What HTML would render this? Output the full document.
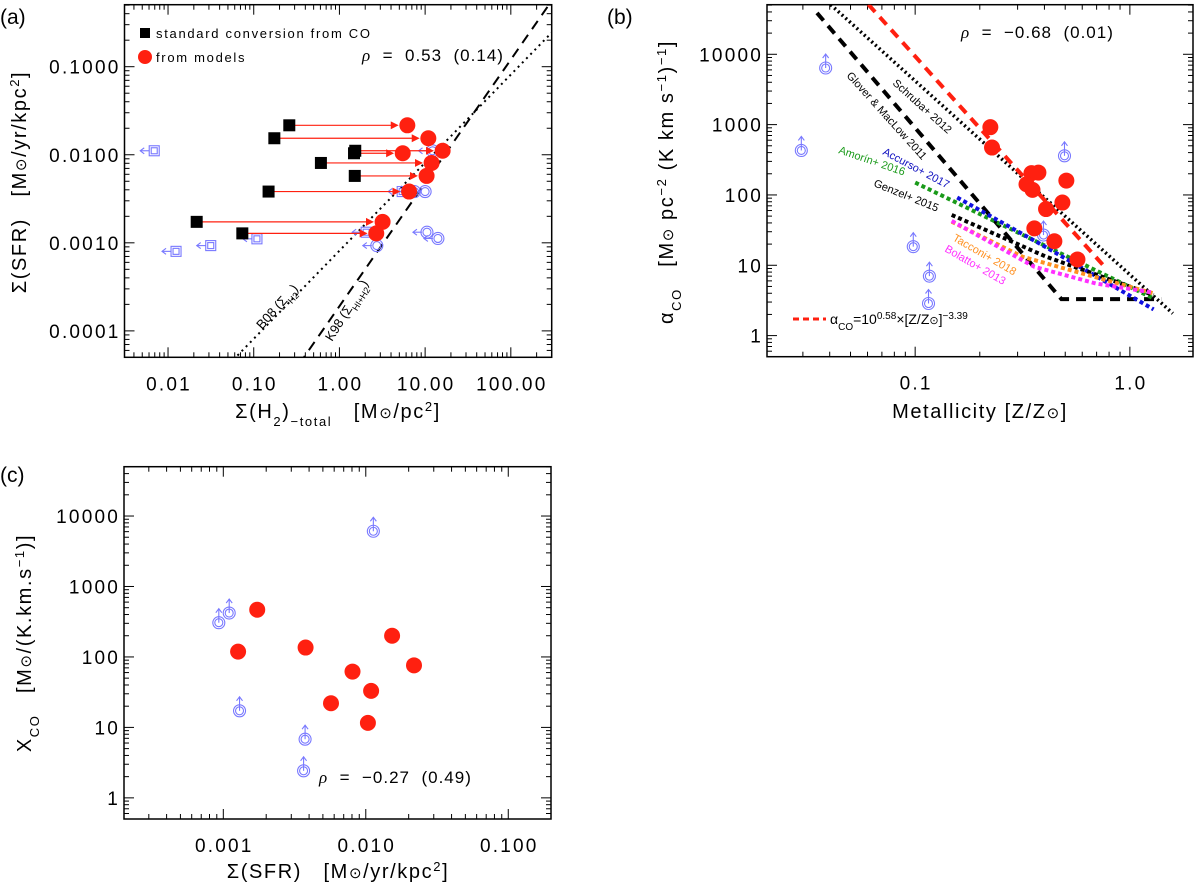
<!DOCTYPE html>
<html><head><meta charset="utf-8">
<style>
html,body{margin:0;padding:0;background:#fff;}
svg{display:block;font-family:"Liberation Sans",sans-serif;}
text{white-space:pre;}
.ttl{font-size:20px;letter-spacing:1.6px;}
</style></head>
<body>
<svg id="fig" width="1200" height="885" viewBox="0 0 1200 885" xmlns="http://www.w3.org/2000/svg">
<defs>
<clipPath id="clipA"><rect x="124.5" y="4.7" width="427.2" height="352.6"/></clipPath>
<clipPath id="clipB"><rect x="767" y="4.7" width="426" height="352"/></clipPath>
<clipPath id="clipC"><rect x="124" y="466.7" width="427" height="352.3"/></clipPath>
</defs>
<g id="gA"></g>
<g id="gB"></g>
<g id="gC"></g>

<text x="0" y="24" font-size="21">(a)</text>
<text x="607" y="24" font-size="21">(b)</text>
<text x="0" y="482" font-size="21">(c)</text>

<text class="ttl" transform="translate(26,182) rotate(-90)" text-anchor="middle">Σ(SFR)   [M<tspan font-size="15">⊙</tspan>/yr/kpc<tspan font-size="13" baseline-shift="super">2</tspan>]</text>
<text class="ttl" x="338" y="418" text-anchor="middle">Σ(H<tspan font-size="13" baseline-shift="sub">2</tspan>)<tspan font-size="13" baseline-shift="sub">−total</tspan>   [M<tspan font-size="15">⊙</tspan>/pc<tspan font-size="13" baseline-shift="super">2</tspan>]</text>

<text class="ttl" transform="translate(673,182) rotate(-90)" text-anchor="middle">α<tspan font-size="13" baseline-shift="sub">CO</tspan>   [M<tspan font-size="15">⊙</tspan> pc<tspan font-size="13" baseline-shift="super">−2</tspan> (K km s<tspan font-size="13" baseline-shift="super">−1</tspan>)<tspan font-size="13" baseline-shift="super">−1</tspan>]</text>
<text class="ttl" x="980" y="418" text-anchor="middle">Metallicity [Z/Z<tspan font-size="15">⊙</tspan>]</text>

<text class="ttl" transform="translate(31,643) rotate(-90)" text-anchor="middle">X<tspan font-size="13" baseline-shift="sub">CO</tspan>   [M<tspan font-size="15">⊙</tspan>/(K.km.s<tspan font-size="13" baseline-shift="super">−1</tspan>)]</text>
<text class="ttl" x="338" y="878" text-anchor="middle">Σ(SFR)   [M<tspan font-size="15">⊙</tspan>/yr/kpc<tspan font-size="13" baseline-shift="super">2</tspan>]</text>

<rect x="140" y="28" width="10" height="10" fill="#000"/>
<text x="156" y="38" font-size="13" letter-spacing="1.7">standard conversion from CO</text>
<circle cx="145" cy="57" r="7" fill="#ff2010"/>
<text x="156" y="62" font-size="13" letter-spacing="1.7">from models</text>
<text x="362" y="61" font-size="17" letter-spacing="1"><tspan font-style="italic" font-family="Liberation Serif">ρ</tspan>  =  0.53  (0.14)</text>
<text transform="translate(262,330) rotate(-48)" font-size="13">B08 (Σ<tspan font-size="9" baseline-shift="sub">H2</tspan>)</text>
<text transform="translate(332,342) rotate(-58)" font-size="13">K98 (Σ<tspan font-size="9" baseline-shift="sub">HI+H2</tspan>)</text>

<text x="961" y="38" font-size="17" letter-spacing="1"><tspan font-style="italic" font-family="Liberation Serif">ρ</tspan>  =  −0.68  (0.01)</text>
<text transform="translate(892,84) rotate(42)" font-size="11">Schruba+ 2012</text>
<text transform="translate(846,76) rotate(48)" font-size="11">Glover &amp; MacLow 2011</text>
<text transform="translate(838,153) rotate(19)" font-size="11" fill="#1a9a1a">Amorín+ 2016</text>
<text transform="translate(882,154) rotate(28)" font-size="11" fill="#1010c0">Accurso+ 2017</text>
<text transform="translate(873,186) rotate(22)" font-size="11">Genzel+ 2015</text>
<text transform="translate(952,240) rotate(30)" font-size="11" fill="#ff9020">Tacconi+ 2018</text>
<text transform="translate(944,251) rotate(30)" font-size="11" fill="#ff30ff">Bolatto+ 2013</text>
<line x1="793" y1="319" x2="826" y2="319" stroke="#ff2010" stroke-width="3" stroke-dasharray="6 4"/>
<text x="830" y="324" font-size="14">α<tspan font-size="10" baseline-shift="sub">CO</tspan>=10<tspan font-size="10" baseline-shift="super">0.58</tspan>×[Z/Z<tspan font-size="11">⊙</tspan>]<tspan font-size="10" baseline-shift="super">−3.39</tspan></text>

<text x="319" y="783" font-size="17" letter-spacing="1"><tspan font-style="italic" font-family="Liberation Serif">ρ</tspan>  =  −0.27  (0.49)</text>
</svg>
<script>
var NS="http://www.w3.org/2000/svg";
// ---------- Panel (a) data ----------
var aStdH2=[0.26,0.174,1.48,1.53,0.608,1.51,0.149,0.0216,0.0736];
var aModelH2=[6.2,10.9,5.48,16.0,11.9,10.4,6.5,3.19,2.69];
var aSfr=[0.0216,0.0154,0.0104,0.0111,0.00807,0.00575,0.00382,0.00173,0.00128];
var aLimSqH2=[0.0069,0.0124,0.0315,0.109,2.05,5.4];
var aLimSqSfr=[0.0111,0.0008,0.00093,0.00111,0.00132,0.00382];
var aLimCircH2=[12.2,10.0,10.5,14.1,2.73,7.5];
var aLimCircSfr=[0.0111,0.00382,0.00132,0.00112,0.00093,0.00382];
var b08Coef=[1.0,-3.09];
var k98Coef=[1.4,-3.72];
var aXTicks=[0.01,0.1,1,10,100];
var aXLabels=["0.01","0.10","1.00","10.00","100.00"];
var aYTicks=[0.0001,0.001,0.01,0.1];
var aYLabels=["0.0001","0.0010","0.0100","0.1000"];
// ---------- Panel (b) data ----------
var bZ=[0.224,0.228,0.348,0.375,0.330,0.352,0.359,0.407,0.445,0.485,0.506,0.570];
var bAlpha=[920,472,204,208,142,118,33.5,63,22,78,160,12.1];
var bLimZ=[0.0383,0.0295,0.098,0.1165,0.1154,0.396,0.496];
var bLimAlpha=[6380,429,18.4,7.0,2.86,26.9,360];
var fitCoef=[0.58,-3.39];
var fitZRange=[0.0606,0.78];
var schrubaZ=[0.0404,1.585], schrubaAlpha=[50800,2.07];
var gloverZ=[0.0349,0.48,1.4], gloverAlpha=[38700,3.3,3.3];
var accursoZ=[0.157,0.39,1.29], accursoAlpha=[92,19.4,2.36];
var amorinZ=[0.1,1.29], amorinAlpha=[150,3.37];
var genzelZ=[0.148,0.406,1.29], genzelAlpha=[52,13.3,3.76];
var tacconiZ=[0.148,0.317,1.29], tacconiAlpha=[41.7,13.2,3.98];
var bolattoZ=[0.148,0.359,0.695,1.29], bolattoAlpha=[42.7,9.5,5.5,4.07];
var bXTicks=[0.1,1], bXLabels=["0.1","1.0"];
var bYTicks=[1,10,100,1000,10000], bYLabels=["1","10","100","1000","10000"];
// ---------- Panel (c) data ----------
var cSfr=[0.00173,0.00127,0.00378,0.0153,0.0218,0.00807,0.0109,0.0057,0.01035];
var cXco=[468,119,136,200,76,62,33,22,11.6];
var cLimSfr=[0.00093,0.0011,0.0013,0.00375,0.00366,0.0113];
var cLimXco=[306,420,17.2,6.8,2.42,6080];
var cXTicks=[0.001,0.01,0.1], cXLabels=["0.001","0.010","0.100"];
var cYTicks=[1,10,100,1000,10000], cYLabels=["1","10","100","1000","10000"];

function mk(tag,attrs,parent){var e=document.createElementNS(NS,tag);for(var k in attrs)e.setAttribute(k,attrs[k]);parent.appendChild(e);return e;}
function makeAxis(x0,x1,y0,y1,lx0,lx1,ly0,ly1){
  return {x0:x0,x1:x1,y0:y0,y1:y1,lx0:lx0,lx1:lx1,ly0:ly0,ly1:ly1,
    X:function(v){return x0+(Math.log10(v)-lx0)/(lx1-lx0)*(x1-x0);},
    Y:function(v){return y1-(Math.log10(v)-ly0)/(ly1-ly0)*(y1-y0);}};
}
var A=makeAxis(124.5,551.7,4.7,357.3,-2.508,2.477,-4.30,-0.296);
var B=makeAxis(767,1193,4.7,356.7,-1.69,0.294,-0.30,4.705);
var C=makeAxis(124,551,466.7,819,-3.697,-0.70,-0.30,4.70);

function drawFrame(ax,g,xt,xl,yt,yl,name){
  var r=mk('rect',{x:ax.x0,y:ax.y0,width:ax.x1-ax.x0,height:ax.y1-ax.y0,fill:'none',stroke:'#000','stroke-width':1.5},g);
  
  
  var tg=mk('g',{stroke:'#000','stroke-width':1},g);
  
  
  for(var d=Math.floor(ax.lx0);d<=Math.ceil(ax.lx1);d++){for(var m=1;m<10;m++){var v=m*Math.pow(10,d);var lv=Math.log10(v);if(lv<ax.lx0||lv>ax.lx1)continue;var x=ax.X(v),L=m==1?10:5;
    mk('line',{x1:x,y1:ax.y1,x2:x,y2:ax.y1-L},tg);mk('line',{x1:x,y1:ax.y0,x2:x,y2:ax.y0+L},tg);}}
  for(var d=Math.floor(ax.ly0);d<=Math.ceil(ax.ly1);d++){for(var m=1;m<10;m++){var v=m*Math.pow(10,d);var lv=Math.log10(v);if(lv<ax.ly0||lv>ax.ly1)continue;var y=ax.Y(v),L=m==1?10:5;
    mk('line',{x1:ax.x0,y1:y,x2:ax.x0+L,y2:y},tg);mk('line',{x1:ax.x1,y1:y,x2:ax.x1-L,y2:y},tg);}}
  for(var i=0;i<xt.length;i++){var t=mk('text',{x:ax.X(xt[i])+1,y:ax.y1+33,'text-anchor':'middle','font-size':19,'letter-spacing':2.2},g);t.textContent=xl[i];
    
    }
  for(var i=0;i<yt.length;i++){var t=mk('text',{x:ax.x0-4,y:ax.Y(yt[i])+7,'text-anchor':'end','font-size':19,'letter-spacing':2.2},g);t.textContent=yl[i];
    
    }
}
var BLUE='#7878ff', RED='#ff2010';
function limCircle(g,x,y,name){
  var s=mk('g',{fill:'none',stroke:BLUE,'stroke-width':1.1},g);
  
  
  mk('circle',{cx:x,cy:y,r:6},s);mk('circle',{cx:x,cy:y,r:4},s);return s;
}
function upArrow(s,x,y){mk('line',{x1:x,y1:y,x2:x,y2:y-14},s);mk('polyline',{points:(x-3)+','+(y-10)+' '+x+','+(y-14)+' '+(x+3)+','+(y-10)},s);}
function leftArrow(s,x,y){mk('line',{x1:x-5,y1:y,x2:x-14,y2:y},s);mk('polyline',{points:(x-10)+','+(y-3)+' '+(x-14)+','+y+' '+(x-10)+','+(y+3)},s);}
function polyPath(ax,xs,ys){var d='';for(var i=0;i<xs.length;i++)d+=(i?'L':'M')+ax.X(xs[i]).toFixed(1)+','+ax.Y(ys[i]).toFixed(1);return d;}

// ----- Panel A -----
var gA=document.getElementById('gA');
drawFrame(A,gA,aXTicks,aXLabels,aYTicks,aYLabels,'panel-a');
var cA=mk('g',{'clip-path':'url(#clipA)'},gA);
(function(){
  var xa=[Math.pow(10,A.lx0),Math.pow(10,A.lx1)];
  var p=mk('path',{d:polyPath(A,xa,xa.map(function(v){return Math.pow(10,b08Coef[1])*Math.pow(v,b08Coef[0]);})),stroke:'#000','stroke-width':2,'stroke-dasharray':'2 4',fill:'none'},cA);
  
  
  var q=mk('path',{d:polyPath(A,xa,xa.map(function(v){return Math.pow(10,k98Coef[1])*Math.pow(v,k98Coef[0]);})),stroke:'#000','stroke-width':2,'stroke-dasharray':'10 7',fill:'none'},cA);
  
  
})();
for(var i=0;i<aLimSqH2.length;i++){
  var x=A.X(aLimSqH2[i]),y=A.Y(aLimSqSfr[i]);
  var s=mk('g',{fill:'none',stroke:BLUE,'stroke-width':1.1},cA);
  
  
  mk('rect',{x:x-5,y:y-5,width:10,height:10},s);mk('rect',{x:x-3,y:y-3,width:6,height:6},s);leftArrow(s,x,y);
}
for(var i=0;i<aLimCircH2.length;i++){var x=A.X(aLimCircH2[i]),y=A.Y(aLimCircSfr[i]);var s=limCircle(cA,x,y,'upper-limit-circle');leftArrow(s,x,y);}
for(var i=0;i<aSfr.length;i++){
  var xs=A.X(aStdH2[i]),xm=A.X(aModelH2[i]),y=A.Y(aSfr[i]);
  var ar=mk('g',{stroke:RED,fill:RED,'stroke-width':1.2},cA);
  
  
  mk('line',{x1:xs,y1:y,x2:xm-10,y2:y},ar);mk('polygon',{points:(xm-10)+','+y+' '+(xm-16)+','+(y-3)+' '+(xm-16)+','+(y+3)},ar);
  var sq=mk('rect',{x:xs-6,y:y-6,width:12,height:12,fill:'#000'},cA);
  
  
}
for(var i=0;i<aSfr.length;i++){
  var c=mk('circle',{cx:A.X(aModelH2[i]),cy:A.Y(aSfr[i]),r:8,fill:RED},cA);
  
  
}

// ----- Panel B -----
var gB=document.getElementById('gB');
drawFrame(B,gB,bXTicks,bXLabels,bYTicks,bYLabels,'panel-b');
var cB=mk('g',{'clip-path':'url(#clipB)'},gB);
function bLine(xs,ys,col,w,dash,name){var p=mk('path',{d:polyPath(B,xs,ys),stroke:col,'stroke-width':w,'stroke-dasharray':dash,fill:'none'},cB);
  
  }
bLine(schrubaZ,schrubaAlpha,'#000',3.5,'2 3','schruba-line');
bLine(gloverZ,gloverAlpha,'#000',4,'10 7','glover-maclow-line');
bLine(amorinZ,amorinAlpha,'#1a9a1a',4,'4 3','amorin-line');
bLine(accursoZ,accursoAlpha,'#1010e0',4,'4 3','accurso-line');
bLine(genzelZ,genzelAlpha,'#000',4,'4 3','genzel-line');
bLine(tacconiZ,tacconiAlpha,'#ff9020',4,'4 3','tacconi-line');
bLine(bolattoZ,bolattoAlpha,'#ff30ff',4,'4 3','bolatto-line');
(function(){var zs=[],as=[];for(var k=0;k<=20;k++){var lz=Math.log10(fitZRange[0])+k/20*(Math.log10(fitZRange[1])-Math.log10(fitZRange[0]));zs.push(Math.pow(10,lz));as.push(Math.pow(10,fitCoef[0]+fitCoef[1]*lz));}
  bLine(zs,as,RED,4,'10 7','fit-line');})();
for(var i=0;i<bLimZ.length;i++){var x=B.X(bLimZ[i]),y=B.Y(bLimAlpha[i]);var s=limCircle(cB,x,y,'lower-limit-point');upArrow(s,x,y);}
for(var i=0;i<bZ.length;i++){var c=mk('circle',{cx:B.X(bZ[i]),cy:B.Y(bAlpha[i]),r:8,fill:RED},cB);
  
  }

// ----- Panel C -----
var gC=document.getElementById('gC');
drawFrame(C,gC,cXTicks,cXLabels,cYTicks,cYLabels,'panel-c');
var cC=mk('g',{'clip-path':'url(#clipC)'},gC);
for(var i=0;i<cLimSfr.length;i++){var x=C.X(cLimSfr[i]),y=C.Y(cLimXco[i]);var s=limCircle(cC,x,y,'lower-limit-point');upArrow(s,x,y);}
for(var i=0;i<cSfr.length;i++){var c=mk('circle',{cx:C.X(cSfr[i]),cy:C.Y(cXco[i]),r:8,fill:RED},cC);
  
  }
</script>
</body></html>
